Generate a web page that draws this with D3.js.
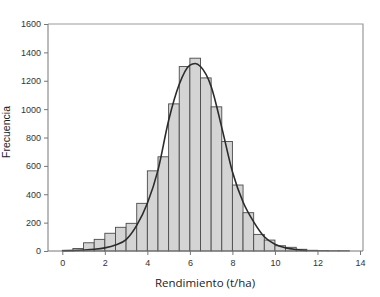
<!DOCTYPE html>
<html>
<head>
<meta charset="utf-8">
<script src="https://cdn.jsdelivr.net/npm/d3@7"></script>
<style>
  body { margin: 0; background: #fff; }
  svg { display: block; }
</style>
</head>
<body>
<svg id="chart" width="380" height="297"></svg>
<script>
// bin start (t/ha), each bin is 0.5 wide
let binStarts = [0, 0.5, 1, 1.5, 2, 2.5, 3, 3.5, 4, 4.5, 5, 5.5, 6, 6.5, 7, 7.5, 8, 8.5, 9, 9.5, 10, 10.5, 11, 11.5, 12, 12.5, 13];
let counts = [5, 18, 58, 82, 125, 167, 195, 336, 565, 664, 1037, 1300, 1359, 1220, 1016, 772, 465, 270, 117, 77, 37, 26, 12, 5, 3, 2, 2];

// fitted curve
let curveX = [0, 0.5, 1, 1.5, 2, 2.5, 3, 3.5, 4, 4.5, 5, 5.5, 6, 6.25, 6.5, 7, 7.5, 8, 8.5, 9, 9.5, 10, 10.5, 11, 11.5];
let curveY = [2, 4, 7, 12, 22, 42, 80, 180, 336, 570, 920, 1175, 1310, 1322, 1300, 1160, 870, 558, 345, 205, 100, 47, 22, 10, 4];

let xTicks = [0, 2, 4, 6, 8, 10, 12, 14];
let yTicks = [0, 200, 400, 600, 800, 1000, 1200, 1400, 1600];

let svg = d3.select('#chart');

let xScale = d3.scaleLinear().domain([0, 14]).range([62.3, 360]);
let yScale = d3.scaleLinear().domain([0, 1600]).range([251, 24]);

let plotL = 48, plotR = 363, plotT = 24, plotB = 251;

// frame top + right
svg.append('path')
  .attr('d', `M${plotL},${plotT}H${plotR}V${plotB}`)
  .style('fill', 'none')
  .style('stroke', '#999')
  .style('stroke-width', 1.2);

// bars
svg.selectAll('rect.bar')
  .data(counts)
  .enter()
  .append('rect')
  .attr('class', 'bar')
  .attr('x', (d, i) => xScale(binStarts[i]))
  .attr('width', (d, i) => xScale(binStarts[i] + 0.5) - xScale(binStarts[i]))
  .attr('y', d => yScale(d))
  .attr('height', d => plotB - yScale(d))
  .style('fill', '#d4d4d4')
  .style('stroke', '#4a4a4a')
  .style('stroke-width', 0.9);

// fitted line
let line = d3.line()
  .x((d, i) => xScale(curveX[i]))
  .y(d => yScale(d))
  .curve(d3.curveMonotoneX);

svg.append('path')
  .attr('d', line(curveY))
  .style('fill', 'none')
  .style('stroke', '#2b2b2b')
  .style('stroke-width', 1.6);

// y axis
let yAxis = d3.axisLeft(yScale).tickValues(yTicks).tickFormat(d3.format('d')).tickSize(4).tickPadding(3);
let gy = svg.append('g')
  .attr('transform', `translate(${plotL},0)`)
  .call(yAxis);
gy.select('.domain').attr('d', `M0,${plotT}V${plotB}`).style('stroke', '#777');
gy.selectAll('.tick line').style('stroke', '#777');
gy.selectAll('text')
  .style('font-family', "'Liberation Sans', Arial, sans-serif")
  .style('font-size', '9px')
  .style('fill', '#333');

// x axis
let xAxis = d3.axisBottom(xScale).tickValues(xTicks).tickFormat(d3.format('d')).tickSize(4).tickPadding(5);
let gx = svg.append('g')
  .attr('transform', `translate(0,${plotB})`)
  .call(xAxis);
gx.select('.domain').attr('d', `M${plotL},0H${plotR}`).style('stroke', '#777');
gx.selectAll('.tick line').style('stroke', '#777');
gx.selectAll('text')
  .style('font-family', "'Liberation Sans', Arial, sans-serif")
  .style('font-size', '9px')
  .style('fill', '#333');

// titles
svg.append('text')
  .attr('x', 205)
  .attr('y', 287)
  .attr('text-anchor', 'middle')
  .style('font-family', "'Open Sans', sans-serif")
  .style('font-size', '11.5px')
  .style('fill', '#222')
  .text('Rendimiento (t/ha)');

svg.append('text')
  .attr('transform', 'translate(10,132) rotate(-90)')
  .attr('text-anchor', 'middle')
  .style('font-family', "'Liberation Sans', Arial, sans-serif")
  .style('font-size', '10.5px')
  .style('fill', '#222')
  .text('Frecuencia');
</script>
</body>
</html>
